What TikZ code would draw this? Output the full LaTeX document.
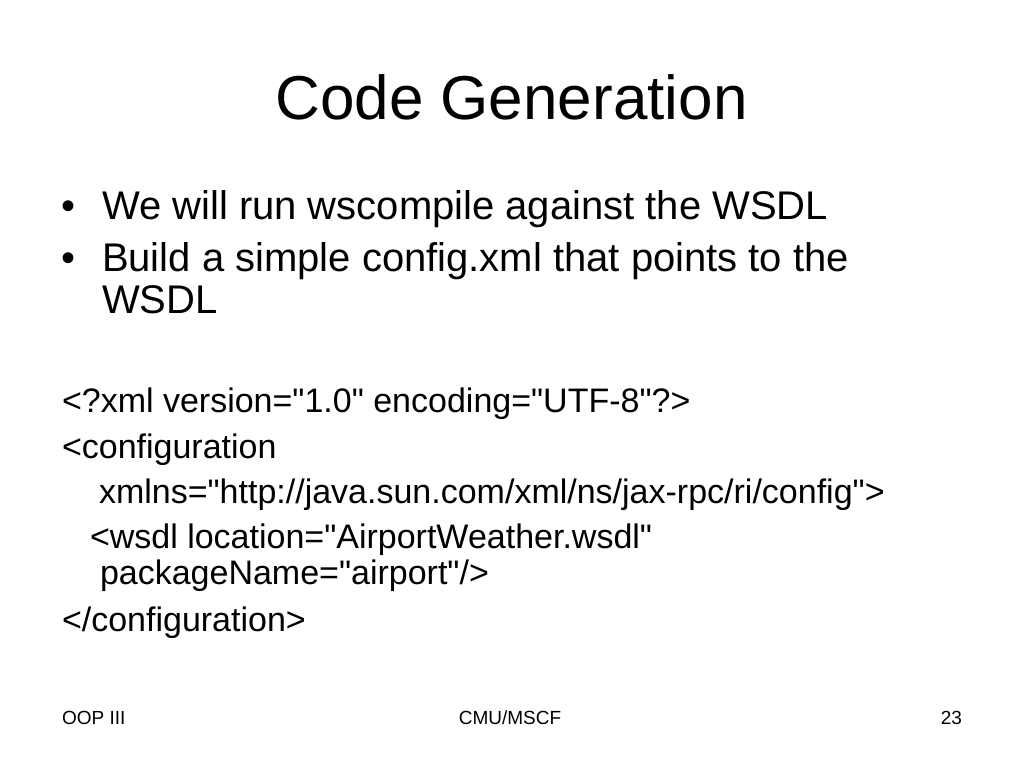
\documentclass[tikz,border=0pt]{standalone}
\usepackage{fontspec}
\setmainfont{Liberation Sans}[Ligatures=TeXOff]
\usepackage{tikz}

\begin{document}
\begin{tikzpicture}[x=1pt,y=-1pt]
    \tikzstyle{every node}+=[inner sep=0pt, outer sep=0pt]
    \tikzstyle{titletext}=[font=\fontsize{62}{62}\selectfont]
    \tikzstyle{itemtext}=[font=\fontsize{40}{42}\selectfont, anchor=base west]
    \tikzstyle{codetext}=[font=\fontsize{34}{37}\selectfont, anchor=base west]
    \tikzstyle{foottext}=[font=\fontsize{19}{19}\selectfont]
    \fill [white] (0,0) rectangle (1024,768);
    \useasboundingbox (0,0) rectangle (1024,768);
    \draw (511.5,119) node [titletext, anchor=base] (title) {Code Generation};
    \draw (61,219) node [itemtext] (dotA) {•};
    \draw (102,219) node [itemtext] (itemA) {We will run wscompile against the WSDL};
    \draw (61,271) node [itemtext] (dotB) {•};
    \draw (102,271) node [itemtext] (itemB) {Build a simple config.xml that points to the};
    \draw (102,313) node [itemtext] (itemC) {WSDL};
    \draw (62,412) node [codetext] (lineA) {<?xml version="1.0" encoding="UTF-8"?>};
    \draw (62,458) node [codetext] (lineB) {<configuration};
    \draw (99,503) node [codetext] (lineC) {xmlns="http://java.sun.com/xml/ns/jax-rpc/ri/config">};
    \draw (90,548) node [codetext] (lineD) {<wsdl location="AirportWeather.wsdl"};
    \draw (100,584) node [codetext] (lineE) {packageName="airport"/>};
    \draw (62,631) node [codetext] (lineF) {</configuration>};
    \draw (62,724) node [foottext, anchor=base west] (footL) {OOP III};
    \draw (510,724) node [foottext, anchor=base] (footC) {CMU/MSCF};
    \draw (962,724) node [foottext, anchor=base east] (footR) {23};
\end{tikzpicture}
\end{document}
